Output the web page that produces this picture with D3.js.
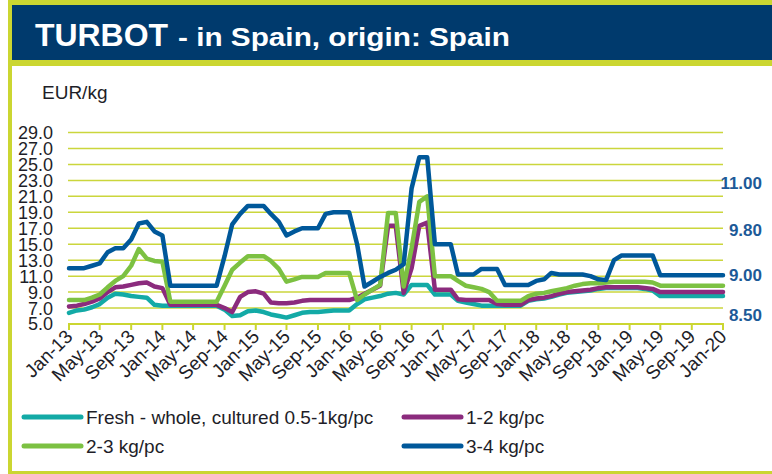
<!DOCTYPE html>
<html>
<head>
<meta charset="utf-8">
<script src="https://d3js.org/d3.v7.min.js"></script>
<style>
  body { margin: 0; padding: 0; background: #fff; }
  text { font-family: "Liberation Sans", Arial, sans-serif; }
  .grid { stroke: #cbd63c; stroke-width: 1.5; }
  .tick-lbl { font-size: 18px; fill: #1e1e28; }
  .big-lbl { font-size: 19px; fill: #1e1e28; }
  .right-lbl { font-size: 17px; font-weight: bold; fill: #1d5a98; }
  .series { fill: none; stroke-width: 4.5; stroke-linejoin: round; stroke-linecap: round; }
</style>
</head>
<body>
<script>
// monthly prices Jan-13 .. Jan-20, EUR/kg
var fresh05 = [6.4, 6.7, 6.8, 7.1, 7.5, 8.3, 8.8, 8.7, 8.5, 8.4, 8.3, 7.4, 7.3,
  7.3, 7.3, 7.3, 7.3, 7.3, 7.3, 7.3,
  6.8, 6.0, 6.1, 6.6, 6.7, 6.5, 6.2, 6.0, 5.8, 6.1, 6.4, 6.5, 6.5, 6.6, 6.7, 6.7, 6.7,
  7.5, 8.1, 8.3, 8.5, 8.8, 8.9, 8.7, 9.9, 9.9, 9.9, 8.7, 8.7, 8.7,
  7.9, 7.7, 7.5, 7.3, 7.3, 7.3, 7.3, 7.3, 7.3,
  7.9, 8.1, 8.2, 8.4, 8.7, 8.9, 9.0, 9.1, 9.2, 9.4, 9.5, 9.5, 9.5, 9.5, 9.5, 9.4, 9.2,
  8.5, 8.5, 8.5, 8.5, 8.5, 8.5, 8.5, 8.5, 8.5];
var kg12 = [7.2, 7.3, 7.5, 7.8, 8.2, 9.0, 9.6, 9.7, 9.9, 10.1, 10.2, 9.7, 9.5,
  7.4, 7.4, 7.4, 7.4, 7.4, 7.4, 7.4,
  7.0, 6.5, 8.4, 9.0, 9.1, 8.8, 7.7, 7.6, 7.6, 7.7, 7.9, 8.0, 8.0, 8.0, 8.0, 8.0, 8.0,
  8.3, 8.8, 9.3, 9.8, 17.3, 17.3, 8.9, 12.0, 17.3, 17.7, 9.3, 9.3, 9.3,
  8.1, 8.0, 8.0, 8.0, 8.0, 7.5, 7.4, 7.4, 7.4,
  8.0, 8.2, 8.3, 8.5, 8.8, 9.0, 9.1, 9.2, 9.3, 9.5, 9.6, 9.6, 9.6, 9.6, 9.6, 9.5, 9.4,
  9.0, 9.0, 9.0, 9.0, 9.0, 9.0, 9.0, 9.0, 9.0];
var kg23 = [8.0, 8.0, 8.0, 8.3, 8.7, 9.6, 10.4, 11.0, 12.3, 14.4, 13.2, 12.9, 12.8,
  7.8, 7.8, 7.8, 7.8, 7.8, 7.8, 7.8,
  9.8, 11.8, 12.7, 13.5, 13.5, 13.5, 12.9, 11.9, 10.3, 10.6, 10.9, 10.9, 10.9, 11.4, 11.4, 11.4, 11.4,
  8.0, 8.7, 9.3, 9.9, 18.9, 18.9, 9.7, 14.5, 20.3, 21.0, 11.0, 11.0, 11.0,
  10.4, 9.8, 9.6, 9.4, 9.0, 7.9, 7.9, 7.9, 7.9,
  8.5, 8.8, 8.9, 9.1, 9.3, 9.5, 9.8, 10.0, 10.1, 10.1, 10.2, 10.3, 10.3, 10.3, 10.3, 10.3, 10.2,
  9.8, 9.8, 9.8, 9.8, 9.8, 9.8, 9.8, 9.8, 9.8];
var kg34 = [12.0, 12.0, 12.0, 12.3, 12.6, 14.0, 14.5, 14.5, 15.6, 17.6, 17.8, 16.6, 16.1,
  9.8, 9.8, 9.8, 9.8, 9.8, 9.8, 9.8,
  13.5, 17.5, 18.8, 19.8, 19.8, 19.8, 18.8, 17.8, 16.1, 16.6, 17.0, 17.0, 17.0, 18.8, 19.0, 19.0, 19.0,
  15.0, 9.7, 10.3, 10.9, 11.4, 11.8, 12.5, 22.0, 25.9, 25.9, 15.0, 15.0, 15.0,
  11.2, 11.2, 11.2, 11.9, 11.9, 11.9, 9.9, 9.9, 9.9,
  9.9, 10.4, 10.6, 11.4, 11.2, 11.2, 11.2, 11.2, 11.0, 10.6, 10.5, 13.0, 13.6, 13.6, 13.6, 13.6, 13.6,
  11.1, 11.1, 11.1, 11.1, 11.1, 11.1, 11.1, 11.1, 11.1];

var seriesNames = ["Fresh - whole, cultured 0.5-1kg/pc", "1-2 kg/pc", "2-3 kg/pc", "3-4 kg/pc"];
var seriesColors = ["#13aaa6", "#8b2b7d", "#7cc142", "#00589a"];
var seriesValues = [fresh05, kg12, kg23, kg34];

var xTickLabels = ["Jan-13", "May-13", "Sep-13", "Jan-14", "May-14", "Sep-14", "Jan-15", "May-15",
  "Sep-15", "Jan-16", "May-16", "Sep-16", "Jan-17", "May-17", "Sep-17", "Jan-18", "May-18",
  "Sep-18", "Jan-19", "May-19", "Sep-19", "Jan-20"];
var yTicks = [5, 7, 9, 11, 13, 15, 17, 19, 21, 23, 25, 27, 29];
// odd right-hand labels, sitting at these heights of the left scale
var rightLabels = ["11.00", "9.80", "9.00", "8.50"];
var rightLabelAt = [22.7, 16.8, 11.1, 6.1];

var W = 772, H = 474;
var months = d3.timeMonths(new Date(2013, 0, 1), new Date(2020, 0, 2));
var parseTick = d3.timeParse("%b-%y");

var svg = d3.select("body").append("svg").attr("width", W).attr("height", H);

// frame + title bar
svg.append("rect").attr("width", W).attr("height", H).attr("fill", "#fff");
svg.append("rect").attr("x", 8).attr("y", 0).attr("width", W - 8).attr("height", H).attr("fill", "#cbd631");
svg.append("rect").attr("x", 12).attr("y", 66).attr("width", W - 12).attr("height", H - 69).attr("fill", "#fff");
svg.append("rect").attr("x", 12).attr("y", 5).attr("width", W - 12).attr("height", 55).attr("fill", "#003a6d");

svg.append("text").attr("x", 35).attr("y", 46).attr("fill", "#fff")
  .style("font-size", "32px").style("font-weight", "bold")
  .attr("textLength", 133).attr("lengthAdjust", "spacingAndGlyphs")
  .text("TURBOT");
svg.append("text").attr("x", 178).attr("y", 46).attr("fill", "#fff")
  .style("font-size", "25px").style("font-weight", "bold")
  .attr("textLength", 332).attr("lengthAdjust", "spacingAndGlyphs")
  .text("- in Spain, origin: Spain");

svg.append("text").attr("x", 42).attr("y", 99).attr("class", "big-lbl").text("EUR/kg");

var x = d3.scaleTime().domain([months[0], months[months.length - 1]]).range([69, 723]);
var y = d3.scaleLinear().domain([5, 29]).range([324, 132.5]);

// gridlines
svg.append("g").selectAll("line").data(yTicks.slice(1)).join("line")
  .attr("class", "grid")
  .attr("x1", 68).attr("x2", 723)
  .attr("y1", d => y(d)).attr("y2", d => y(d));

// left axis labels
svg.append("g").selectAll("text").data(yTicks).join("text")
  .attr("class", "tick-lbl")
  .attr("x", 53).attr("y", d => y(d)).attr("dy", "0.36em")
  .attr("text-anchor", "end")
  .text(d => d.toFixed(1));

// right labels
svg.append("g").selectAll("text").data(rightLabels).join("text")
  .attr("class", "right-lbl")
  .attr("x", 762).attr("y", (d, i) => y(rightLabelAt[i])).attr("dy", "0.36em")
  .attr("text-anchor", "end")
  .text(d => d);

// bottom axis
var tickDates = xTickLabels.map(parseTick);
var xAxis = svg.append("g").attr("transform", "translate(0," + y(5) + ")");
xAxis.append("line").attr("x1", 68).attr("x2", 724).attr("stroke", "#cbd631").attr("stroke-width", 2);
xAxis.selectAll(".tk").data(tickDates).join("line").attr("class", "tk")
  .attr("x1", d => x(d)).attr("x2", d => x(d)).attr("y1", 0).attr("y2", 6)
  .attr("stroke", "#cbd631").attr("stroke-width", 2);
xAxis.selectAll(".tl").data(xTickLabels).join("text").attr("class", "big-lbl tl")
  .attr("text-anchor", "end")
  .attr("dy", "0.35em")
  .attr("transform", (d, i) => "translate(" + x(tickDates[i]) + ",9) rotate(-45)")
  .text(d => d);

// series
var line = d3.line().x((d, i) => x(months[i])).y(d => y(d));
svg.append("g").selectAll("path").data(seriesValues).join("path")
  .attr("class", "series")
  .attr("stroke", (d, i) => seriesColors[i])
  .attr("d", line);

// legend, two columns
var leg = svg.append("g").selectAll("g").data(seriesNames).join("g")
  .attr("transform", (d, i) => "translate(" + (i % 2 ? 404 : 24) + "," + (i < 2 ? 417 : 446) + ")");
leg.append("line").attr("x1", 0).attr("x2", 57).attr("stroke-width", 5).attr("stroke-linecap", "round")
  .attr("stroke", (d, i) => seriesColors[i]);
leg.append("text").attr("class", "big-lbl").attr("x", 62).attr("dy", "0.36em").text(d => d);
</script>
</body>
</html>
